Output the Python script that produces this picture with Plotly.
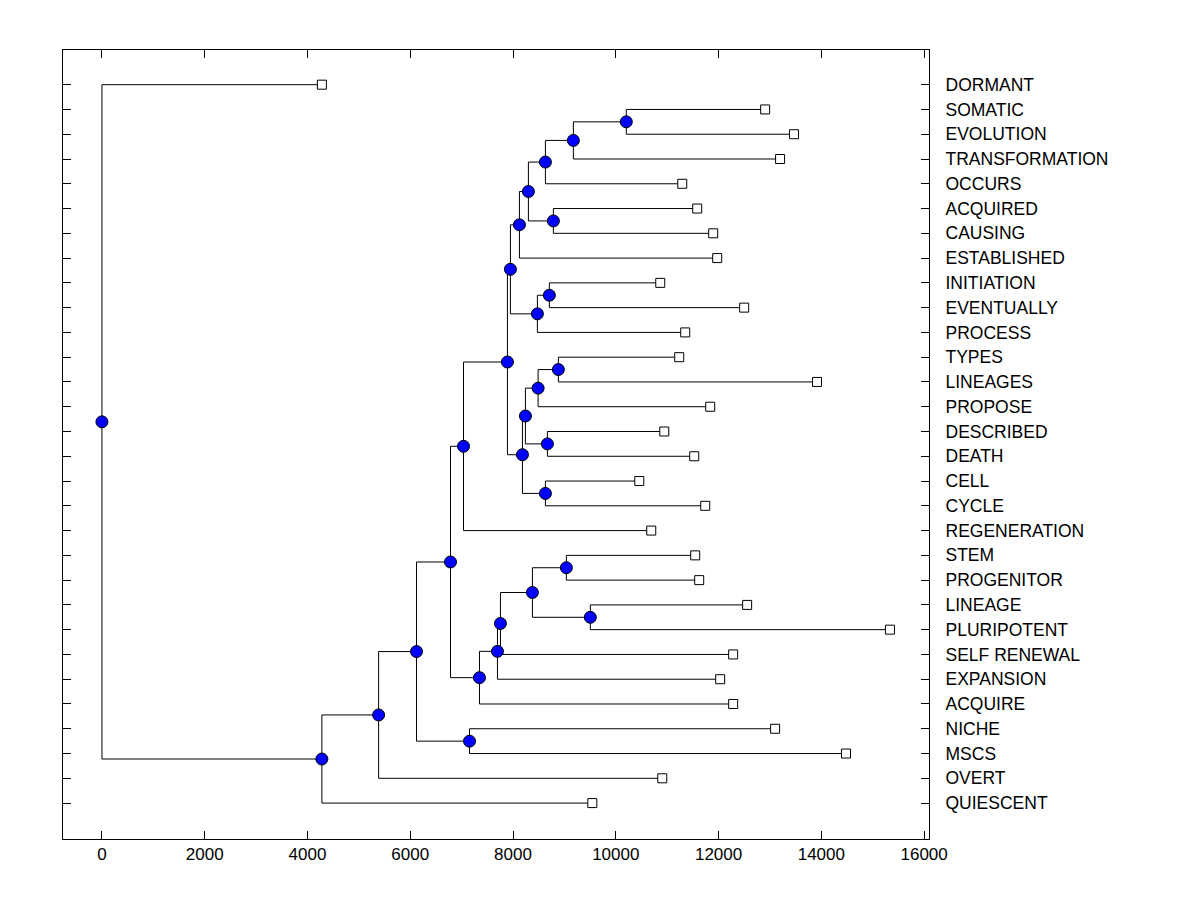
import plotly.graph_objects as go

# leaves, top to bottom, and the distance at which each leaf ends
leaves = ["DORMANT", "SOMATIC", "EVOLUTION", "TRANSFORMATION", "OCCURS", "ACQUIRED",
          "CAUSING", "ESTABLISHED", "INITIATION", "EVENTUALLY", "PROCESS", "TYPES",
          "LINEAGES", "PROPOSE", "DESCRIBED", "DEATH", "CELL", "CYCLE", "REGENERATION",
          "STEM", "PROGENITOR", "LINEAGE", "PLURIPOTENT", "SELF RENEWAL", "EXPANSION",
          "ACQUIRE", "NICHE", "MSCS", "OVERT", "QUIESCENT"]
leaf_dist = [4280, 12906, 13469, 13197, 11293, 11584, 11895, 11973, 10865, 12498,
             11351, 11234, 13916, 11837, 10943, 11526, 10457, 11740, 10690,
             11545, 11623, 12556, 15335, 12284, 12031, 12284, 13100, 14480,
             10904, 9543]

# merges: (node, child a, child b, distance of the join)
merges = [
    ("n28", "SOMATIC", "EVOLUTION", 10204),
    ("n27", "n28", "TRANSFORMATION", 9174),
    ("n25", "n27", "OCCURS", 8630),
    ("n26", "ACQUIRED", "CAUSING", 8785),
    ("n24", "n25", "n26", 8299),
    ("n21", "n24", "ESTABLISHED", 8124),
    ("n23", "INITIATION", "EVENTUALLY", 8707),
    ("n22", "n23", "PROCESS", 8474),
    ("n14", "n21", "n22", 7949),
    ("n20", "TYPES", "LINEAGES", 8882),
    ("n18", "n20", "PROPOSE", 8488),
    ("n19", "DESCRIBED", "DEATH", 8669),
    ("n16", "n18", "n19", 8241),
    ("n17", "CELL", "CYCLE", 8630),
    ("n15", "n16", "n17", 8183),
    ("n13", "n14", "n15", 7891),
    ("n6", "n13", "REGENERATION", 7036),
    ("n11", "STEM", "PROGENITOR", 9038),
    ("n12", "LINEAGE", "PLURIPOTENT", 9504),
    ("n10", "n11", "n12", 8377),
    ("n9", "n10", "SELF RENEWAL", 7755),
    ("n8", "n9", "EXPANSION", 7697),
    ("n7", "n8", "ACQUIRE", 7347),
    ("n4", "n6", "n7", 6783),
    ("n5", "NICHE", "MSCS", 7153),
    ("n3", "n4", "n5", 6122),
    ("n2", "n3", "OVERT", 5384),
    ("n1", "n2", "QUIESCENT", 4280),
    ("root", "DORMANT", "n1", 0),
]

x_ticks = [0, 2000, 4000, 6000, 8000, 10000, 12000, 14000, 16000]

# positions of every leaf and node
pos = {name: (d, i + 1) for i, (name, d) in enumerate(zip(leaves, leaf_dist))}
for node, a, b, d in merges:
    pos[node] = (d, (pos[a][1] + pos[b][1]) / 2)

# elbow connectors
lx, ly = [], []
for node, a, b, d in merges:
    xa, ya = pos[a]
    xb, yb = pos[b]
    lx += [xa, d, d, xb, None]
    ly += [ya, ya, yb, yb, None]

fig = go.Figure()
fig.add_trace(go.Scatter(x=lx, y=ly, mode="lines",
                         line=dict(color="black", width=1), hoverinfo="skip"))
fig.add_trace(go.Scatter(x=leaf_dist, y=[pos[n][1] for n in leaves], mode="markers",
                         marker=dict(symbol="square", size=9, color="white",
                                     line=dict(color="black", width=1)),
                         text=leaves, hoverinfo="text+x"))
fig.add_trace(go.Scatter(x=[m[3] for m in merges], y=[pos[m[0]][1] for m in merges],
                         mode="markers",
                         marker=dict(symbol="circle", size=12, color="#0000FF",
                                     line=dict(color="black", width=1)),
                         hoverinfo="x"))

fig.update_layout(
    width=1200, height=900,
    margin=dict(l=55, r=279, t=42, b=69),
    paper_bgcolor="white", plot_bgcolor="white",
    showlegend=False,
    font=dict(family="Liberation Sans, Arial, sans-serif", size=17, color="black"),
)
fig.update_xaxes(
    range=[-758, 16095], tickvals=x_ticks, ticktext=[str(t) for t in x_ticks],
    ticks="inside", ticklen=8, tickcolor="black", mirror="ticks",
    showline=True, linecolor="black", linewidth=1, showgrid=False, zeroline=False,
)
fig.update_yaxes(
    range=[31.45, -0.4], side="right",
    tickvals=list(range(1, len(leaves) + 1)), ticktext=leaves,
    tickfont=dict(size=17.5),
    ticks="inside", ticklen=8, tickcolor="black", mirror="ticks",
    ticklabelstandoff=12,
    showline=True, linecolor="black", linewidth=1, showgrid=False, zeroline=False,
)

fig.write_html("out.html")
